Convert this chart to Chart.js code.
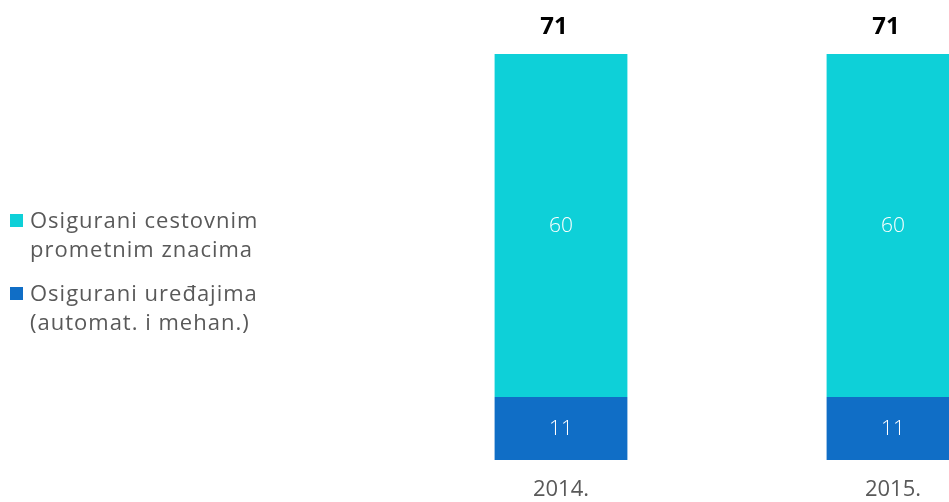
<!DOCTYPE html>
<html>
<head>
<meta charset="utf-8">
<script src="https://cdn.jsdelivr.net/npm/chart.js@4.4.0/dist/chart.umd.min.js"></script>
<style>
  body { margin: 0; overflow: hidden; width: 949px; height: 502px; background: #fff; font-family: "Open Sans", sans-serif; }
  #wrap { position: absolute; left: 0; top: 0; }
  #legend { position: absolute; left: 10px; top: 205px; color: #595959; font-size: 22px; line-height: 29px; letter-spacing: 1px; }
  .item { display: flex; align-items: flex-start; margin-bottom: 15px; }
  .box { width: 13px; height: 13px; margin: 9px 7px 0 0; flex: none; }
</style>
</head>
<body>
<div id="wrap"><canvas id="graph1" width="1060" height="502"></canvas></div>
<div id="legend"></div>
<script>
//グラフのデータ
var labels = ['2014.', '2015.'];
var uredaji = [11, 11];
var znakovi = [60, 60];
var ukupno = [71, 71];
var names = [['Osigurani cestovnim', 'prometnim znacima'], ['Osigurani uređajima', '(automat. i mehan.)']];
var colors = ['#0ED0D8', '#106EC6'];

document.addEventListener('DOMContentLoaded', function() {

  //凡例（HTML）
  var lg = document.querySelector('#legend');
  for (let i = 0; i < 2; i++) {
    var it = document.createElement('div');
    it.className = 'item';
    var b = document.createElement('div');
    b.className = 'box';
    b.style.background = colors[i];
    var t = document.createElement('div');
    t.innerHTML = names[i].join('<br>');
    it.appendChild(b);
    it.appendChild(t);
    lg.appendChild(it);
  }

  //ラベル描画
  var labelPlugin = {
    id: 'barLabels',
    afterDatasetsDraw: function(chart) {
      var ctx = chart.ctx;
      ctx.save();
      ctx.textAlign = 'center';
      ctx.textBaseline = 'middle';
      chart.data.datasets.forEach(function(ds, i) {
        var meta = chart.getDatasetMeta(i);
        meta.data.forEach(function(bar, j) {
          ctx.fillStyle = '#ffffff';
          ctx.font = '300 21px "Open Sans", sans-serif';
          ctx.fillText(ds.data[j], bar.x, (bar.y + bar.base) / 2);
        });
      });
      var top = chart.getDatasetMeta(1);
      top.data.forEach(function(bar, j) {
        ctx.fillStyle = '#000000';
        ctx.font = 'bold 24px "Open Sans", sans-serif';
        ctx.fillText(ukupno[j], bar.x - 7, 27);
      });
      ctx.restore();
    }
  };

  var ctx = document.querySelector('#graph1').getContext('2d');
  var chart = new Chart(ctx, {
    type: 'bar',
    data: {
      labels: labels,
      datasets: [{
        label: names[1].join(' '),
        data: uredaji,
        backgroundColor: colors[1],
        categoryPercentage: 0.8,
        barPercentage: 0.5,
      }, {
        label: names[0].join(' '),
        data: znakovi,
        backgroundColor: colors[0],
        categoryPercentage: 0.8,
        barPercentage: 0.5,
      }]
    },
    options: {
      responsive: false,
      animation: false,
      layout: { padding: { left: 395, right: 1, top: 54, bottom: 0 } },
      plugins: {
        legend: { display: false },
        tooltip: { enabled: false }
      },
      scales: {
        x: {
          stacked: true,
          grid: { display: false, drawTicks: false },
          border: { display: false },
          ticks: { color: '#595959', font: { size: 22, family: '"Open Sans", sans-serif' }, padding: 17 },
          afterFit: function(axis) { axis.height = 42; }
        },
        y: {
          stacked: true,
          display: false,
          min: 0,
          max: 71
        }
      }
    },
    plugins: [labelPlugin]
  });
});
</script>
</body>
</html>
